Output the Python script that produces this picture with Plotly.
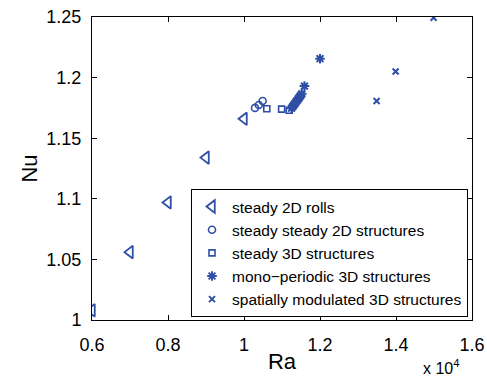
import plotly.graph_objects as go

# Data (Ra in actual units, Nu)
ra_2d_rolls = [6000, 7000, 8000, 9000, 10000]
nu_2d_rolls = [1.008, 1.056, 1.097, 1.134, 1.166]

ra_2d_struct = [10290, 10390, 10490]
nu_2d_struct = [1.175, 1.1774, 1.1807]

ra_3d_struct = [10600, 10990, 11190]
nu_3d_struct = [1.1743, 1.174, 1.173]

ra_mono = [11250, 11280, 11310, 11340, 11370, 11400, 11430, 11460, 11490, 11520, 11590, 12000]
nu_mono = [1.1747, 1.1760, 1.1773, 1.1786, 1.1799, 1.1812, 1.1825, 1.1838, 1.1852, 1.1866, 1.193, 1.2156]

ra_mod = [13490, 13990, 14990]
nu_mod = [1.1807, 1.205, 1.2494]

x_ticks = [6000, 8000, 10000, 12000, 14000, 16000]
x_ticktext = ["0.6", "0.8", "1", "1.2", "1.4", "1.6"]
y_ticks = [1.0, 1.05, 1.1, 1.15, 1.2, 1.25]
y_ticktext = ["1", "1.05", "1.1", "1.15", "1.2", "1.25"]

color = "#2f4fa6"
font_family = "Liberation Sans, Arial, sans-serif"

fig = go.Figure()
fig.add_trace(go.Scatter(x=ra_2d_rolls, y=nu_2d_rolls, mode="markers", name="steady 2D rolls",
                         marker=dict(symbol="triangle-left-open", size=11, color=color, line=dict(width=1.8, color=color))))
fig.add_trace(go.Scatter(x=ra_2d_struct, y=nu_2d_struct, mode="markers", name="steady steady 2D structures",
                         marker=dict(symbol="circle-open", size=7, color=color, line=dict(width=1.6, color=color))))
fig.add_trace(go.Scatter(x=ra_3d_struct, y=nu_3d_struct, mode="markers", name="steady 3D structures",
                         marker=dict(symbol="square-open", size=6, color=color, line=dict(width=1.6, color=color))))
fig.add_trace(go.Scatter(x=ra_mono, y=nu_mono, mode="markers", name="mono\u2212periodic 3D structures",
                         marker=dict(symbol="asterisk-open", size=8, color=color, line=dict(width=2, color=color))))
fig.add_trace(go.Scatter(x=ra_mod, y=nu_mod, mode="markers", name="spatially modulated 3D structures",
                         marker=dict(symbol="x-thin-open", size=6, color=color, line=dict(width=2, color=color))))

axis_common = dict(showgrid=False, zeroline=False, showline=True, linecolor="black", linewidth=1,
                   mirror="ticks", ticks="inside", ticklen=5, tickcolor="black", automargin=False,
                   tickfont=dict(size=18, color="black", family=font_family))

fig.update_layout(
    width=487, height=377,
    margin=dict(l=92, r=15, t=17, b=57),
    paper_bgcolor="white", plot_bgcolor="white",
    font=dict(family=font_family, color="black"),
    showlegend=True,
    legend=dict(x=0.9895, y=0.01, xanchor="right", yanchor="bottom",
                bordercolor="black", borderwidth=1, bgcolor="white",
                font=dict(size=15.5, color="black", family=font_family),
                tracegroupgap=0, itemsizing="trace"),
    xaxis=dict(range=[6000, 16000], tickvals=x_ticks, ticktext=x_ticktext, ticklabelstandoff=8,
               title=dict(text="Ra", font=dict(size=22, color="black", family=font_family), standoff=0),
               **axis_common),
    yaxis=dict(range=[1.0, 1.25], tickvals=y_ticks, ticktext=y_ticktext, ticklabelstandoff=6,
               title=dict(text="Nu", font=dict(size=22, color="black", family=font_family), standoff=2),
               **axis_common),
    annotations=[dict(text="x 10<sup>4</sup>", x=0.968, y=-0.192, xref="paper", yref="paper",
                      xanchor="right", yanchor="bottom", showarrow=False, borderpad=0,
                      font=dict(size=16, color="black", family=font_family))],
)

fig.write_html("out.html")
